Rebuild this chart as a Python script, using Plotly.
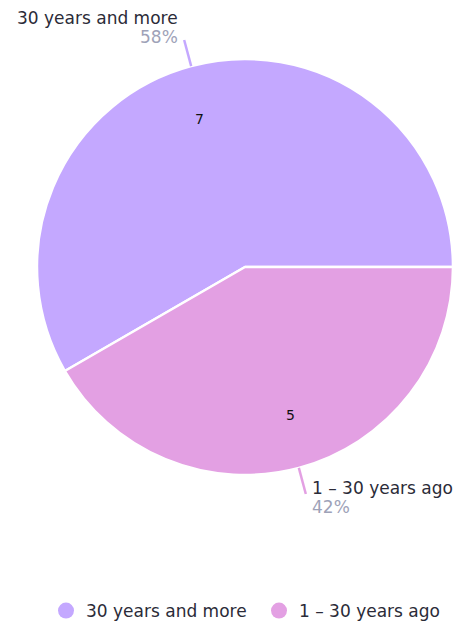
import math
import plotly.graph_objects as go

labels = ["30 years and more", "1 – 30 years ago"]
values = [7, 5]
colors = ["#C4A8FF", "#E3A0E3"]

W, H = 459, 622
# pie geometry in window pixels
cx, cy, R = 245, 267, 208
FONT = "DejaVu Sans"
TXT = "#2B2B38"
PCT = "#9EA2B8"
FS = 17


def px(x):
    return x / W


def py(y):
    return 1 - y / H


total = sum(values)
frac0 = values[0] / total

fig = go.Figure()
fig.add_trace(go.Pie(
    labels=labels, values=values, sort=False, direction="clockwise",
    rotation=90 - frac0 * 360,
    marker=dict(colors=colors, line=dict(color="white", width=2.5)),
    textinfo="none",
    domain=dict(x=[px(cx - R), min(1, px(cx + R))], y=[py(cy + R), py(cy - R)]),
    showlegend=False, hoverinfo="label+value+percent",
))

# legend entries with circular markers
for lab, col in zip(labels, colors):
    fig.add_trace(go.Scatter(x=[None], y=[None], mode="markers", name=lab,
                             marker=dict(symbol="circle", size=19, color=col)))

# values, leader lines and outside labels placed from the data
start = 0.0
shapes, annots = [], []
for lab, v, col in zip(labels, values, colors):
    frac = v / total
    mid = math.radians((start + frac / 2) * 360)
    start += frac
    c, s = math.cos(mid), -math.sin(mid)
    annots.append(dict(x=px(cx + 0.735 * R * c * 1.15), y=py(cy + 0.735 * R * s), text=str(v),
                       xanchor="center", yanchor="middle",
                       font=dict(family=FONT, size=14, color="#111111")))
    x0, y0 = cx + R * c, cy + R * s
    x1, y1 = cx + (R + 27) * c, cy + (R + 27) * s
    shapes.append(dict(type="line", xref="paper", yref="paper",
                       x0=px(x0), y0=py(y0), x1=px(x1), y1=py(y1),
                       line=dict(color=col, width=2.5)))
    pct = f"{round(frac * 100)}%"
    if y1 < cy:
        ax, anchor, ly, pyy = x1 - 5, "right", y1 - 22, y1 - 3
    else:
        ax, anchor, ly, pyy = x1 + 5, "left", y1 - 6, y1 + 13
    annots.append(dict(x=px(ax), y=py(ly), text=lab, xanchor=anchor, align=anchor,
                       yanchor="middle", font=dict(family=FONT, size=FS, color=TXT)))
    annots.append(dict(x=px(ax), y=py(pyy), text=pct, xanchor=anchor, align=anchor,
                       yanchor="middle", font=dict(family=FONT, size=FS, color=PCT)))
for a in annots:
    a.update(xref="paper", yref="paper", showarrow=False, borderpad=0)

fig.update_layout(
    width=W, height=H, margin=dict(l=0, r=0, t=0, b=0, autoexpand=False),
    paper_bgcolor="white", plot_bgcolor="white",
    xaxis=dict(visible=False), yaxis=dict(visible=False),
    shapes=shapes, annotations=annots,
    legend=dict(orientation="h", x=px(259), xanchor="center",
                y=py(611), yanchor="middle",
                font=dict(family=FONT, size=FS, color=TXT), itemwidth=30,
                entrywidth=168, entrywidthmode="pixels"),
    font=dict(family=FONT),
)
fig.write_html(
    "out.html",
    config={"displayModeBar": False},
    post_script="document.body.style.margin='0';document.body.style.overflow='hidden';",
)
